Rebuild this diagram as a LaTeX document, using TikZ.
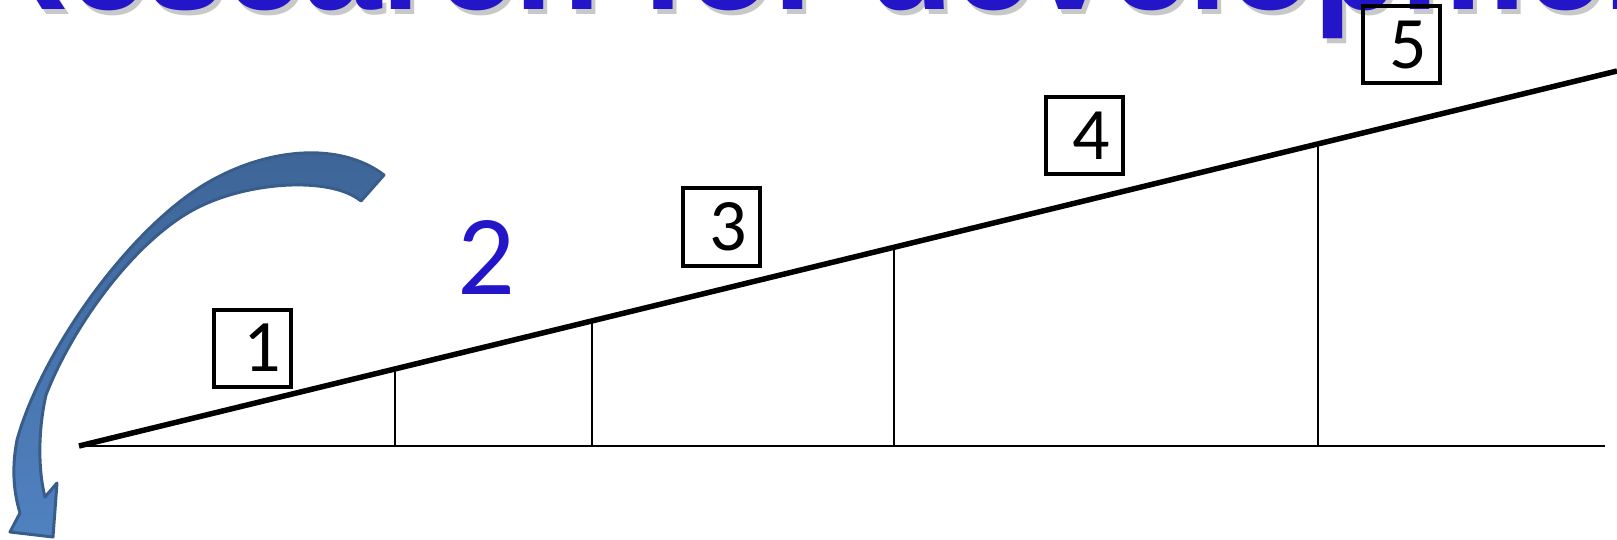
\documentclass[tikz,border=0pt]{standalone}
\usepackage{fontspec}
\setmainfont{Carlito}
\newfontfamily\titlefont{Liberation Sans}
\definecolor{tblue}{RGB}{35,22,200}
\definecolor{arrtop}{RGB}{62,100,150}
\definecolor{arrbot}{RGB}{80,130,192}
\definecolor{arredge}{RGB}{56,93,138}
\definecolor{shadowgray}{RGB}{200,200,200}
\begin{document}
\begin{tikzpicture}[x=1pt,y=-1pt,
  numbox/.style={draw, line width=4pt, minimum width=77pt, minimum height=77pt,
    inner sep=0pt, font=\fontsize{74}{74}\selectfont},
  slant/.style={line width=5.5pt},
  thinline/.style={line width=2.4pt},
  titletext/.style={anchor=south west, inner sep=0pt, text depth=0pt,
    font=\titlefont\bfseries\fontsize{141}{141}\selectfont}]
\useasboundingbox (0,0) rectangle (1617,540);
\clip (0,0) rectangle (1617,540);
% clipped title
\node[titletext, text=shadowgray] (titleshadow) at (-30,15) {Research for development};
\node[titletext, text=tblue] (title) at (-34,10) {Research for development};
% curved arrow
\path[draw=arredge, line width=3pt, line join=round, top color=arrtop, bottom color=arrbot]
  (384,175) .. controls (339,141) and (267,148) .. (207,183)
  .. controls (130,228) and (42,350) .. (17,440)
  .. controls (12,466) and (13,490) .. (20,513)
  -- (10,532) -- (53,537) -- (57,483) -- (45,497)
  .. controls (38,470) and (38,430) .. (46,395)
  .. controls (71,330) and (131,244) .. (193,210)
  .. controls (246,181) and (331,176) .. (361,201)
  -- cycle;
% axes
\coordinate (O) at (79,446);
\coordinate (E) at (1617,71);
\coordinate (B) at (1605,446);
\coordinate (s1) at (395,369.0);  \coordinate (b1) at (395,446);
\coordinate (s2) at (592,320.9);  \coordinate (b2) at (592,446);
\coordinate (s3) at (894,247.3);  \coordinate (b3) at (894,446);
\coordinate (s4) at (1318,143.9); \coordinate (b4) at (1318,446);
\draw[thinline] (O) -- (B);
\draw[thinline] (s1) -- (b1);
\draw[thinline] (s2) -- (b2);
\draw[thinline] (s3) -- (b3);
\draw[thinline] (s4) -- (b4);
\draw[slant] (O) -- (E);
% boxes
\node[numbox] (n1) at (252,348) {\hspace*{20pt}1};
\node[numbox] (n3) at (721,227) {\hspace*{14pt}3};
\node[numbox] (n4) at (1084,136) {\hspace*{14pt}4};
\node[numbox] (n5) at (1401,45) {\hspace*{14pt}5};
\node[text=tblue, inner sep=0pt, font=\fontsize{114}{114}\selectfont] (two) at (486,258) {2};
\end{tikzpicture}
\end{document}
